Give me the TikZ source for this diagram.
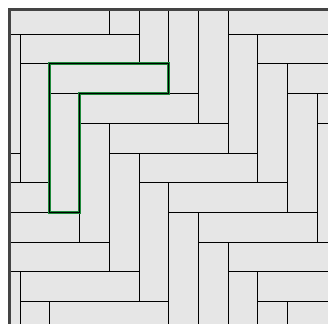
\documentclass[tikz,border=0pt]{standalone}
\usepackage{xcolor}
\usepackage{tikz}
\definecolor{tilegray}{HTML}{E6E6E6}
\definecolor{framegray}{HTML}{444444}
\definecolor{pickgreen}{HTML}{1E8A3A}

\begin{document}
\begin{tikzpicture}[
  x=29.73pt, y=-29.73pt,
  tile/.style={fill=tilegray,draw=black,line width=0.8pt},
  pickline/.style={draw=pickgreen,line width=2.8pt,line join=miter},
  edgeline/.style={draw=black,line width=1.1pt},
  border/.style={draw=framegray,line width=3pt,line join=miter}
]
\useasboundingbox (-0.6727,-1.1436) rectangle (10.360,9.754);
\begin{scope}
\clip (-0.353,-0.824) rectangle (10.5,9.9);
% herringbone: one flat and one upright tile per lattice point
\foreach \a in {-6,...,12}{
  \foreach \k in {-2,...,2}{
    \pgfmathtruncatemacro{\b}{\a+8*\k}
    \draw[tile] (\a,\b) rectangle ++(4,1);
    \draw[tile] (\a,\b+1) rectangle ++(1,4);
  }
}
% highlighted pair
\draw[pickline] (1,1) -- (5,1) -- (5,2) -- (2,2) -- (2,6) -- (1,6) -- cycle;
\draw[edgeline] (1,1) -- (5,1) -- (5,2) -- (2,2) -- (2,6) -- (1,6) -- cycle;
\end{scope}
\draw[border] (-0.353,10) -- (-0.353,-0.824) -- (10.5,-0.824);
\end{tikzpicture}
\end{document}
